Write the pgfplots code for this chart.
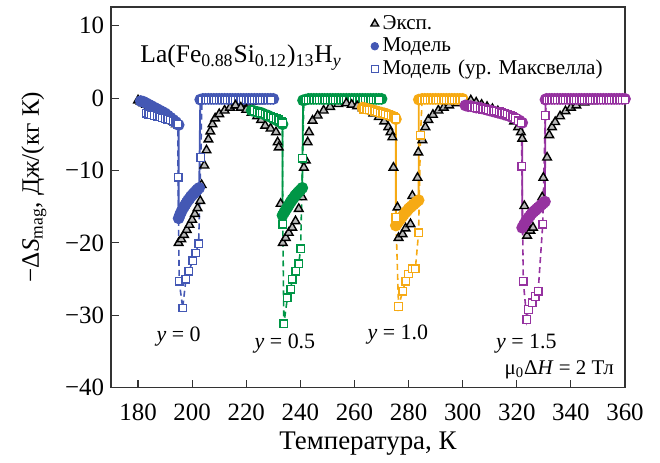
\documentclass[border=0pt]{standalone}
\usepackage{fontspec}
\setmainfont{Liberation Serif}
\usepackage{pgfplots}
\pgfplotsset{compat=1.18}

\definecolor{cA}{RGB}{68,88,180}
\definecolor{cB}{RGB}{0,150,70}
\definecolor{cC}{RGB}{246,170,20}
\definecolor{cD}{RGB}{150,50,160}

\pgfplotsset{
  expdata/.style={only marks, mark=triangle*, mark size=2.5pt,
    mark options={fill=gray!55, draw=black, line width=0.7pt}},
  model/.style={color=#1, solid, line width=0.9pt, mark=*, mark size=2.5pt,
    mark options={fill=#1, draw=#1, solid}},
  maxw/.style={color=#1, line width=0.8pt, dash pattern=on 3pt off 2pt,
    mark=square*, mark size=1.9pt,
    mark options={fill=white, draw=#1, solid, line width=0.7pt}},
}

\begin{document}
\begin{tikzpicture}
\begin{axis}[
  scale only axis,
  width=257bp, height=190.3bp,
  xmin=170, xmax=360, ymin=-40, ymax=12.6,
  xtick={180,200,...,360},
  ytick={-40,-30,-20,-10,0,10},
  yticklabels={−40,−30,−20,−10,0,10},
  tick pos=left, tick align=inside,
  major tick length=4bp,
  axis line style={black!80, line width=0.6pt},
  tick style={black!80, line width=0.6pt},
  /pgf/number format/assume math mode=true,
  ticklabel style={font=\fontsize{12.5}{14}\selectfont},
  xticklabel style={yshift=-4.5bp},
  xlabel={Температура, К},
  ylabel={−Δ\textit{S}\textsubscript{mag}, Дж/(кг К)},
  xlabel style={font=\fontsize{13.5}{15}\selectfont,
    at={(axis description cs:0.5,-0.148)}, anchor=center},
  ylabel style={font=\fontsize{12.6}{15}\selectfont,
    at={(axis description cs:-0.15,0.527)}, anchor=center},
  legend style={at={(rel axis cs:1,0.995)}, anchor=north east,
    draw=none, fill=none, row sep=-1.2pt, inner sep=1pt,
    cells={anchor=west},
    nodes={font=\fontsize{10.6}{13}\selectfont, text width=118bp,
      inner xsep=2bp, align=left}},
  legend cell align=left,
]
% ---------- y = 0 ----------
\addplot[expdata, forget plot] coordinates {
(180,-0.3)(181,-0.5)(182,-0.7)(183,-0.9)(184,-1.1)(185,-1.3)(186,-1.5)(187,-1.7)
(188,-1.9)(189,-2.1)(190,-2.3)(191,-2.6)(192,-2.9)(193,-3.2)(194,-3.6)
(195,-20.0)(196,-19.5)(197,-18.9)(198,-18.2)(199,-17.5)(200,-16.8)(201,-16.0)
(202,-15.2)(203,-14.2)(203.5,-12.0)(204.5,-9.3)(205.3,-7.2)(206,-5.7)(206.7,-4.6)
(207.5,-3.6)(208.5,-2.8)(210,-2.2)(212,-1.7)(214,-1.3)(216,-1.0)(218,-0.8)
(220,-0.6)(222,-0.5)(225,-0.4)};
\addplot[model=cA, forget plot] coordinates {
(181,-0.4)(182,-0.5)(183,-0.7)(184,-0.9)(185,-1.1)(186,-1.3)(187,-1.5)(188,-1.7)
(189,-1.9)(190,-2.1)(191,-2.4)(192,-2.7)(193,-3.0)(194,-3.3)(195,-3.7)
(195,-16.6)(195.5,-16.1)(196,-15.7)(196.5,-15.3)(197,-15.0)(197.5,-14.7)(198,-14.4)
(198.5,-14.1)(199,-13.9)(199.5,-13.6)(200,-13.4)(200.5,-13.2)(201,-13.0)(201.5,-12.8)
(202,-12.6)(202.6,-12.4)
(203,-0.2)(204,-0.1)(205,-0.1)(206,-0.1)(207,-0.1)(208,-0.1)(209,-0.1)(210,-0.1)
(211,-0.1)(212,-0.1)(213,-0.1)(214,-0.1)(215,-0.1)(216,-0.1)(217,-0.1)(218,-0.1)
(219,-0.1)(220,-0.1)(221,-0.1)(222,-0.1)(223,-0.1)(224,-0.1)(225,-0.1)(226,-0.1)
(227,-0.1)(228,-0.1)(229,-0.1)(230,-0.1)};
\addplot[maxw=cA, forget plot] coordinates {
(183,-2.1)(184,-2.2)(185,-2.3)(186,-2.4)(187,-2.5)(188,-2.6)(189,-2.7)(190,-2.8)
(191,-2.9)(192,-3.0)(193,-3.2)(194,-3.4)(194.7,-3.6)(194.8,-10.9)(195.2,-25.3)
(196.5,-29.0)(197.7,-25.0)(198.8,-23.9)(200.2,-22.5)(201.3,-21.4)(202.4,-20.1)
(203.2,-8.2)(203.6,-0.2)(205,-0.2)(206,-0.2)(207,-0.2)(208,-0.2)(209,-0.2)(210,-0.2)
(211,-0.2)(212,-0.2)(213,-0.2)(214,-0.2)(215,-0.2)(216,-0.2)(217,-0.2)(218,-0.2)
(219,-0.2)(220,-0.2)(221,-0.2)(222,-0.2)(223,-0.2)(224,-0.2)(225,-0.2)(226,-0.2)
(227,-0.2)(228,-0.2)(229,-0.2)};

% ---------- y = 0.5 ----------
\addplot[expdata, forget plot] coordinates {
(216,-1.0)(218,-1.3)(220,-1.6)(222,-2.0)(224,-2.5)(225.5,-3.0)(227,-3.8)(229,-4.2)
(231,-4.7)(231.6,-6.1)(232,-6.8)(232.7,-14.6)(233.5,-20.0)(234.6,-19.3)(235.7,-18.6)
(237,-17.9)(238.2,-17.0)(239.4,-15.3)(240.7,-13.7)(241.3,-9.6)(242,-8.6)(242.7,-6.1)
(243.2,-4.7)(244.5,-3.1)(246.4,-2.4)(248.6,-1.7)(251,-1.2)(254,-0.8)(257,-0.6)
(260,-0.4)(263,-0.3)};
\addplot[model=cB, forget plot] coordinates {
(222,-1.7)(223,-1.8)(224,-1.9)(225,-2.0)(226,-2.1)(227,-2.3)(228,-2.4)(229,-2.6)
(230,-2.8)(231,-3.0)(232,-3.2)(233,-3.4)(233.4,-3.6)
(233.4,-16.2)(234,-15.8)(234.5,-15.5)(235,-15.2)(235.5,-14.9)(236,-14.6)(236.5,-14.3)
(237,-14.0)(237.5,-13.8)(238,-13.5)(238.5,-13.3)(239,-13.1)(239.5,-12.9)(240,-12.7)
(240.7,-12.4)
(241,-0.3)(242,-0.2)(243,-0.1)(244,-0.1)(245,-0.1)(246,-0.1)(247,-0.1)(248,-0.1)
(249,-0.1)(250,-0.1)(251,-0.1)(252,-0.1)(253,-0.1)(254,-0.1)(255,-0.1)(256,-0.1)
(257,-0.1)(258,-0.1)(259,-0.1)(260,-0.1)(261,-0.1)(262,-0.1)(263,-0.1)(264,-0.1)
(265,-0.1)(266,-0.1)(267,-0.1)(268,-0.1)(269,-0.1)(270,-0.1)};
\addplot[maxw=cB, forget plot] coordinates {
(222.8,-1.7)(224,-1.9)(225,-2.0)(226,-2.1)(227,-2.2)(228,-2.4)(229,-2.5)(230,-2.7)
(231,-2.8)(232,-3.0)(233,-3.2)(233.4,-3.4)(233.5,-17.4)(233.9,-31.2)(235.2,-27.6)
(236.4,-26.4)(237.0,-25.0)(238.3,-23.9)(239.4,-22.9)(240.1,-20.8)(240.8,-8.3)
(241.3,-0.3)(242,-0.2)(243,-0.2)(244,-0.2)(245,-0.2)(246,-0.2)(247,-0.2)(248,-0.2)
(249,-0.2)(250,-0.2)(251,-0.2)(252,-0.2)(253,-0.2)(254,-0.2)(255,-0.2)(256,-0.2)
(257,-0.2)(258,-0.2)(259,-0.2)(260,-0.2)(261,-0.2)(262,-0.2)(263,-0.2)(264,-0.2)
(265,-0.2)(266,-0.2)(267,-0.2)(268,-0.2)(269,-0.2)};

% ---------- y = 1.0 ----------
\addplot[expdata, forget plot] coordinates {
(257,-0.7)(259,-0.9)(261,-1.1)(263,-1.4)(265,-1.7)(267,-2.1)(269,-2.6)(271,-3.2)
(272.5,-4.0)(273.3,-4.7)(274,-5.4)(274.4,-9.6)(275.9,-15.1)(276.3,-19.3)(277.8,-18.8)
(278.9,-18.0)(280.7,-17.4)(281.4,-13.5)(283.3,-11.0)(283.6,-7.5)(285.1,-5.8)
(286.2,-4.0)(287.3,-3.0)(289,-2.3)(291,-1.7)(293,-1.3)(295,-1.0)(298,-0.7)(301,-0.5)};
\addplot[model=cC, forget plot] coordinates {
(263,-1.3)(264,-1.4)(265,-1.5)(266,-1.6)(267,-1.7)(268,-1.8)(269,-1.9)(270,-2.0)
(271,-2.1)(272,-2.2)(273,-2.4)(274,-2.5)(275,-2.7)(275.3,-2.9)
(275.3,-17.6)(275.8,-17.3)(276.4,-17.0)(277,-16.7)(277.6,-16.4)(278.2,-16.1)
(278.8,-15.8)(279.4,-15.6)(280,-15.3)(280.6,-15.1)(281.2,-14.9)(281.8,-14.7)
(282.4,-14.5)(283,-14.3)(283.7,-14.1)
(283.8,-0.2)(285,-0.1)(286,-0.1)(287,-0.1)(288,-0.1)(289,-0.1)(290,-0.1)(291,-0.1)
(292,-0.1)(293,-0.1)(294,-0.1)(295,-0.1)(296,-0.1)(297,-0.1)(298,-0.1)(299,-0.1)
(300,-0.1)};
\addplot[maxw=cC, forget plot] coordinates {
(263.4,-1.5)(264.5,-1.6)(265.5,-1.6)(266.5,-1.7)(267.5,-1.8)(268.5,-1.9)(269.5,-2.0)
(270.5,-2.1)(271.5,-2.2)(272.5,-2.3)(273.5,-2.4)(274.5,-2.6)(275.3,-2.8)(275.3,-16.5)
(276.3,-28.8)(277.8,-26.7)(278.9,-25.3)(280,-24.3)(281.4,-23.6)(282.5,-23.6)
(283.7,-18.6)(284.4,-5.1)(285,-0.2)(286,-0.2)(287,-0.2)(288,-0.2)(289,-0.2)(290,-0.2)
(291,-0.2)(292,-0.2)(293,-0.2)(294,-0.2)(295,-0.2)(296,-0.2)(297,-0.2)(298,-0.2)
(299,-0.2)(300,-0.2)};

% ---------- y = 1.5 ----------
\addplot[expdata, forget plot] coordinates {
(303,-0.3)(305,-0.6)(307,-0.9)(309,-1.2)(311,-1.5)(313,-1.8)(315,-2.2)(317,-2.6)
(319,-3.2)(320.5,-4.0)(321.5,-4.7)(322,-5.6)(322.8,-14.9)(323.8,-19.0)(325,-18.3)
(326,-17.9)(329.4,-13.7)(329.8,-11.0)(331.2,-8.2)(332,-5.1)(333,-4.0)(334.2,-3.3)
(336,-2.5)(338,-1.8)(340,-1.3)(342,-1.0)(345,-0.6)(348,-0.4)};
\addplot[model=cD, forget plot] coordinates {
(301,-1.0)(302,-1.1)(303,-1.1)(304,-1.2)(305,-1.3)(306,-1.3)(307,-1.4)(308,-1.5)
(309,-1.6)(310,-1.7)(311,-1.8)(312,-1.9)(313,-2.0)(314,-2.1)(315,-2.2)(316,-2.3)
(317,-2.4)(318,-2.6)(319,-2.7)(320,-2.9)(321,-3.1)(322,-3.4)
(322,-17.9)(322.6,-17.5)(323.2,-17.1)(323.8,-16.8)(324.4,-16.5)(325,-16.2)
(325.6,-15.9)(326.2,-15.7)(326.8,-15.5)(327.4,-15.3)(328,-15.1)(328.6,-14.9)
(329.2,-14.7)(329.8,-14.5)(330.4,-14.3)
(330.6,-0.2)(331,-0.1)(332,-0.1)(333,-0.1)(334,-0.1)(335,-0.1)(336,-0.1)(337,-0.1)
(338,-0.1)(339,-0.1)(340,-0.1)(341,-0.1)(342,-0.1)(343,-0.1)(344,-0.1)(345,-0.1)
(346,-0.1)(347,-0.1)(348,-0.1)(349,-0.1)(350,-0.1)(351,-0.1)(352,-0.1)(353,-0.1)
(354,-0.1)(355,-0.1)(356,-0.1)(357,-0.1)(358,-0.1)(359,-0.1)(360,-0.1)};
\addplot[maxw=cD, forget plot] coordinates {
(303.5,-1.2)(304.5,-1.3)(305.5,-1.3)(306.5,-1.4)(307.5,-1.5)(308.5,-1.5)(309.5,-1.6)
(310.5,-1.7)(311.5,-1.8)(312.5,-1.8)(313.5,-1.9)(314.5,-2.0)(315.5,-2.1)(316.5,-2.2)
(317.5,-2.4)(318.5,-2.6)(319.5,-2.8)(320.5,-3.1)(321.7,-3.4)(321.9,-9.4)(322.4,-25.3)
(323.7,-30.6)(324.3,-29.2)(325.7,-28.3)(326.8,-27.4)(327.9,-26.7)(329.6,-17.4)
(330.5,-2.4)(331.1,-0.2)(332,-0.2)(333,-0.2)(334,-0.2)(335,-0.2)(336,-0.2)(337,-0.2)
(338,-0.2)(339,-0.2)(340,-0.2)(341,-0.2)(342,-0.2)(343,-0.2)(344,-0.2)(345,-0.2)
(346,-0.2)(347,-0.2)(348,-0.2)(349,-0.2)(350,-0.2)(351,-0.2)(352,-0.2)(353,-0.2)
(354,-0.2)(355,-0.2)(356,-0.2)(357,-0.2)(358,-0.2)(359,-0.2)(360,-0.2)};

% ---------- legend ----------
\addlegendimage{only marks, mark=triangle*, mark size=2.2pt,
  mark options={fill=gray!55, draw=black, line width=0.7pt}}
\addlegendentry{Эксп.}
\addlegendimage{only marks, mark=*, mark size=1.9pt,
  mark options={fill=cA, draw=cA}}
\addlegendentry{Модель}
\addlegendimage{only marks, mark=square*, mark size=1.8pt,
  mark options={fill=white, draw=cA, line width=0.7pt}}
\addlegendentry{Модель (ур.\ Максвелла)}

% ---------- annotations ----------
\node[anchor=base west, font=\fontsize{12.8}{14}\selectfont] at (axis cs:178.3,4.9)
  {La(Fe\textsubscript{0.88}Si\textsubscript{0.12})\textsubscript{13}H\textsubscript{\textit{y}}};
\node[anchor=base, font=\fontsize{11}{13}\selectfont] at (axis cs:195,-33.6) {\textit{y} = 0};
\node[anchor=base, font=\fontsize{11}{13}\selectfont] at (axis cs:234.3,-34.6) {\textit{y} = 0.5};
\node[anchor=base, font=\fontsize{11}{13}\selectfont] at (axis cs:276,-33.4) {\textit{y} = 1.0};
\node[anchor=base, font=\fontsize{11}{13}\selectfont] at (axis cs:323.5,-34.6) {\textit{y} = 1.5};
\node[anchor=base east, inner sep=0pt, font=\fontsize{10.5}{12}\selectfont] at (axis cs:356,-38.2)
  {μ\textsubscript{0}Δ\textit{H} = 2 Тл};
\end{axis}
\path (current axis.south west) ++(-55.5bp,-35.2bp);
\path (current axis.north east) ++(17.5bp,3.5bp);
\end{tikzpicture}
\end{document}
